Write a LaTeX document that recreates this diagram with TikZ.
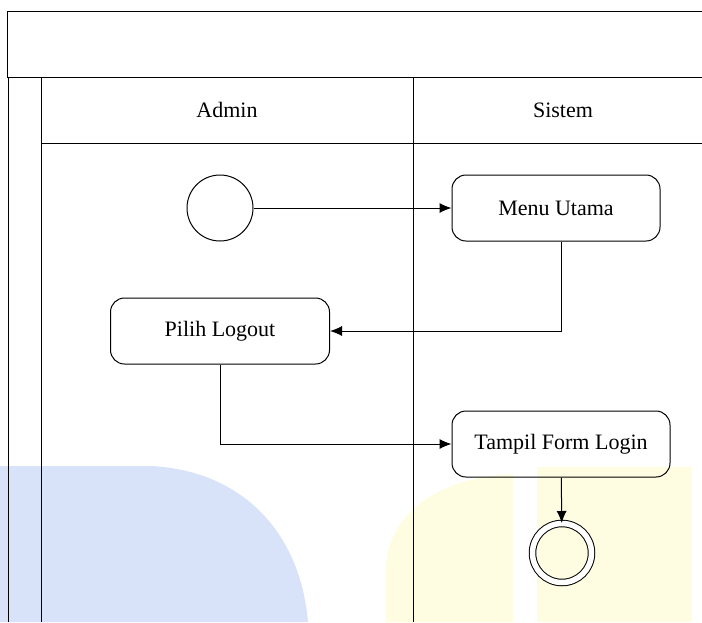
\documentclass[tikz,border=0pt]{standalone}
\usepackage{fontspec}
\setmainfont{Liberation Serif}
\usetikzlibrary{arrows.meta}
\definecolor{markblue}{RGB}{216,227,249}
\definecolor{markyellow}{RGB}{255,253,225}
\tikzset{
    activity/.style={draw, rounded corners=14pt, minimum height=66pt, font=\fontsize{22}{25}\selectfont},
    lane/.style={font=\fontsize{22}{25}\selectfont},
    flow/.style={-{Latex[length=12pt,width=10pt]}}
}
\begin{document}
\begin{tikzpicture}[x=1pt, y=-1pt, line width=1pt]
    \useasboundingbox (0,0) rectangle (702,622);
    % watermark in the background
    \fill[markblue] (0,466) -- (150,466) .. controls (240,470) and (300,530) .. (308,622) -- (0,622) -- cycle;
    \fill[markyellow] (386,622) -- (386,570) .. controls (386,520) and (430,478) .. (513,474) -- (513,622) -- cycle;
    \fill[markyellow] (537,467) rectangle (692,622);
    % swimlanes
    \draw (7,77) -- (7,11) -- (702,11);
    \draw (7,77) -- (702,77);
    \draw (8,77) -- (8,622);
    \draw (41,77) -- (41,622);
    \draw (41,143) -- (702,143);
    \draw (413,77) -- (413,622);
    \node[lane] (admin) at (227,110) {Admin};
    \node[lane] (sistem) at (563,110) {Sistem};
    % activities
    \node[draw, circle, minimum size=66pt] (start) at (220,208) {};
    \node[activity, minimum width=208pt] (menu) at (556,208) {Menu Utama};
    \node[activity, minimum width=219pt] (logout) at (220,331) {Pilih Logout};
    \node[activity, minimum width=218pt] (tampil) at (561,444) {Tampil Form Login};
    \node[draw, circle, double, double distance=5.5pt, minimum size=59pt] (end) at (562,553) {};
    \path [flow] (start) edge (menu);
    \draw [flow] (menu.south -| tampil) |- (logout);
    \draw [flow] (logout) |- (tampil);
    \path [flow] (tampil) edge (end);
\end{tikzpicture}
\end{document}
